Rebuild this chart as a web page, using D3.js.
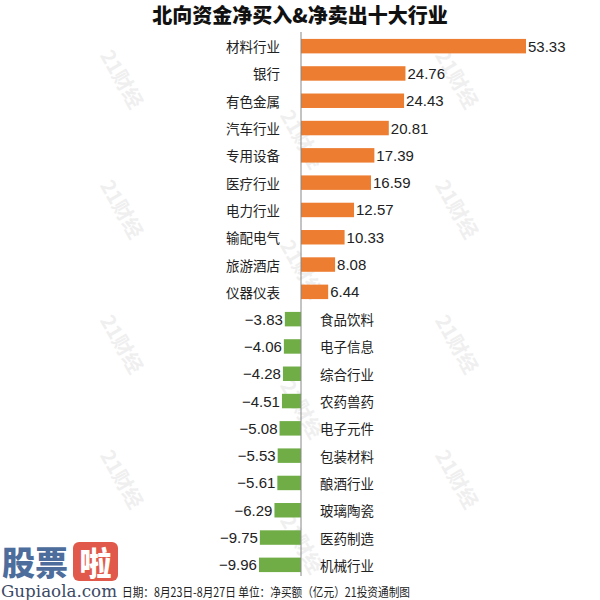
<!DOCTYPE html>
<html><head><meta charset="utf-8">
<script src="https://cdn.jsdelivr.net/npm/d3@7/dist/d3.min.js"></script>
<style>body{margin:0;background:#fff}svg{display:block}</style>
</head><body>
<svg id="c" width="600" height="600"></svg>
<script>
const categories = ["材料行业","银行","有色金属","汽车行业","专用设备","医疗行业","电力行业","输配电气","旅游酒店","仪器仪表",
  "食品饮料","电子信息","综合行业","农药兽药","电子元件","包装材料","酿酒行业","玻璃陶瓷","医药制造","机械行业"];
const values = [53.33,24.76,24.43,20.81,17.39,16.59,12.57,10.33,8.08,6.44,
  -3.83,-4.06,-4.28,-4.51,-5.08,-5.53,-5.61,-6.29,-9.75,-9.96];
const title = "北向资金净买入&净卖出十大行业";
const footer = "日期：8月23日-8月27日 单位：净买额（亿元）21投资通制图";

const svg = d3.select("#c");
const font = "'Noto Sans CJK SC', 'Noto Sans', sans-serif";

// watermarks
const wm = [[120,80],[300,140],[455,80],[120,210],[455,210],[300,270],[120,345],[455,345],[300,410],[120,480],[455,480],[300,545]];
svg.append("g").selectAll("text").data(wm).join("text")
  .attr("transform", d => `translate(${d[0]},${d[1]}) rotate(60)`)
  .attr("text-anchor","middle").attr("dominant-baseline","middle")
  .attr("font-family",font).attr("font-weight","bold").attr("font-size",20)
  .attr("fill","#efefef").text("21财经");

svg.append("text").attr("x",300).attr("y",14).attr("text-anchor","middle").attr("dominant-baseline","central")
  .attr("font-family",font).attr("font-weight",900).attr("font-size",20)
  .attr("fill","#111").text(title);

const x = d3.scaleLinear().domain([0,53.33]).range([301,526]);
const y = d3.scaleBand().domain(categories).range([32.5,578.5]).paddingInner(0.47).paddingOuter(0.235);

const g = svg.append("g");
g.selectAll("rect").data(values).join("rect")
  .attr("x",(d)=>x(Math.min(0,d)))
  .attr("width",d=>Math.abs(x(d)-x(0)))
  .attr("y",(d,i)=>y(categories[i]))
  .attr("height",y.bandwidth())
  .attr("fill",d=>d>=0?"#ED7D31":"#70AD47");

svg.append("line").attr("x1",x(0)).attr("x2",x(0)).attr("y1",32).attr("y2",576)
  .attr("stroke","#888").attr("stroke-width",1);

// category labels
g.selectAll("text.cat").data(values).join("text").attr("class","cat")
  .attr("x",d=>d>=0? x(0)-21 : x(0)+19)
  .attr("y",(d,i)=>y(categories[i])+y.bandwidth()/2)
  .attr("text-anchor",d=>d>=0?"end":"start")
  .attr("dominant-baseline","central")
  .attr("font-family",font).attr("font-size",13.5).attr("fill","#222")
  .text((d,i)=>categories[i]);

// value labels
g.selectAll("text.val").data(values).join("text").attr("class","val")
  .attr("x",d=>d>=0? x(d)+2 : x(d)-2)
  .attr("y",(d,i)=>y(categories[i])+y.bandwidth()/2)
  .attr("text-anchor",d=>d>=0?"start":"end")
  .attr("dominant-baseline","central")
  .attr("font-family","'Liberation Sans', Arial, sans-serif").attr("font-size",15).attr("fill","#222")
  .text(d=>d>=0? d.toFixed(2) : "\u2212"+Math.abs(d).toFixed(2));

svg.append("text").attr("x",122).attr("y",591).attr("dominant-baseline","central")
  .attr("font-family",font).attr("font-size",12.5).attr("fill","#222")
  .attr("textLength",288).attr("lengthAdjust","spacingAndGlyphs").text(footer);

// logo
const logo = svg.append("g");
logo.append("text").attr("x",2).attr("y",575).attr("font-family",font).attr("font-weight",900)
  .attr("font-size",33).attr("textLength",66).attr("lengthAdjust","spacingAndGlyphs").attr("fill","#4d6d9c").text("股票");
logo.append("rect").attr("x",73).attr("y",542).attr("width",45).attr("height",39).attr("rx",6).attr("fill","#e0594a");
logo.append("text").attr("x",95.5).attr("y",575).attr("text-anchor","middle").attr("font-family",font).attr("font-weight",900)
  .attr("font-size",32).attr("fill","#fff").text("啦");
logo.append("text").attr("x",1).attr("y",597).attr("font-family","'DejaVu Serif', serif")
  .attr("font-size",16).attr("textLength",116).attr("lengthAdjust","spacingAndGlyphs").attr("fill","#3c4a66").text("Gupiaola.com");
</script>
</body></html>
